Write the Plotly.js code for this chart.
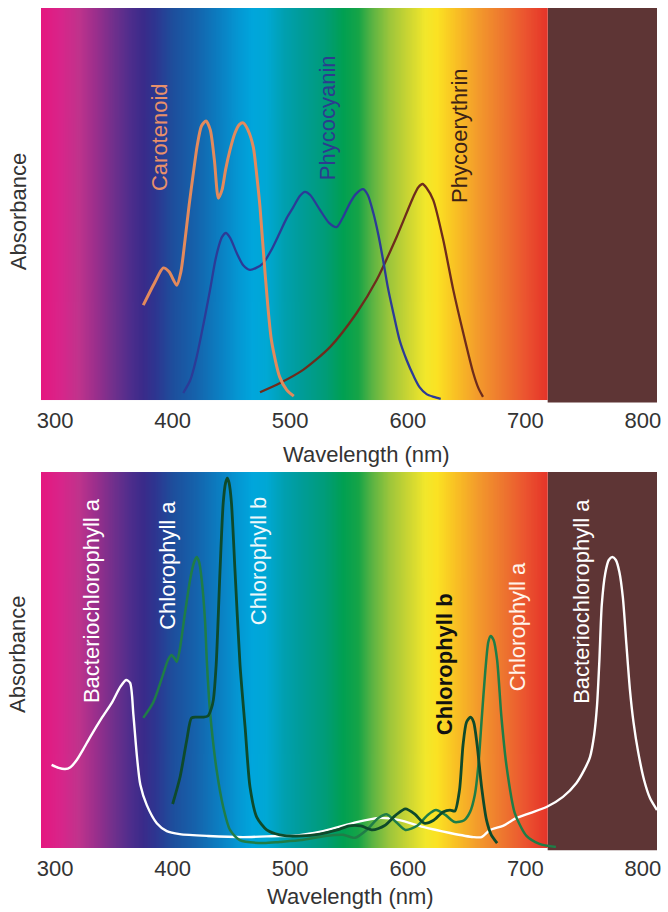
<!DOCTYPE html>
<html>
<head>
<meta charset="utf-8">
<script src="https://cdn.plot.ly/plotly-3.0.1.min.js"></script>
<style>
  html, body { margin: 0; padding: 0; background: #ffffff; }
  #chart { width: 668px; height: 912px; }
</style>
</head>
<body>
<div id="chart"></div>
<script>
// ---------- Data (wavelength in nm, relative absorbance 0..1) ----------
// Top panel: accessory pigments
const carotenoidNm  = [375,385,392,397,403.5,407,410.5,414,417.6,421,424.5,428.4,432,435.5,438.9,442,445,448.8,453,456.5,460,464,468.6,471.5,474.3,478.6,484,491,497,503];
const carotenoidAbs = [0.242,0.301,0.337,0.327,0.293,0.327,0.408,0.497,0.579,0.651,0.699,0.712,0.689,0.612,0.515,0.536,0.587,0.638,0.681,0.702,0.707,0.689,0.645,0.574,0.492,0.324,0.153,0.059,0.026,0.010];

const phycocyaninNm  = [409,415,420.4,426,431.8,436,439,442,445.4,449,454.5,460,465.8,471,477,484,491,497,502.6,508,512.6,517,525.3,533,539.5,545,550.9,556,562,566,570.7,575,579,583,587.7,593,599,605,610,616,622,628];
const phycocyaninAbs = [0.018,0.051,0.110,0.191,0.281,0.352,0.390,0.416,0.426,0.413,0.375,0.344,0.332,0.337,0.349,0.383,0.426,0.464,0.492,0.520,0.531,0.523,0.485,0.452,0.441,0.467,0.503,0.526,0.538,0.523,0.477,0.421,0.357,0.288,0.222,0.153,0.102,0.061,0.033,0.015,0.008,0.003];

const phycoerythrinNm  = [474.3,491,511,533.8,556.5,573.5,590.5,604.7,609,612.6,616,621.7,630.2,638.7,647.2,655.7,660,664];
const phycoerythrinAbs = [0.020,0.043,0.077,0.135,0.222,0.306,0.416,0.518,0.543,0.551,0.541,0.510,0.408,0.281,0.171,0.069,0.031,0.008];

// Bottom panel: chlorophylls
const bchlNm  = [297,303,308.5,313,318.4,324,329.8,339.7,348.2,355.3,360.4,363.8,366.6,369.5,372.5,378,386.5,395,406,430,460,491,500,528,556.5,576,593,613,636,655.7,662.8,670,681,692.6,704,718,732,743.5,750,755,758.5,761,763,765,768,771,774,777,780,783,786,789,792,796,801,806,812];
const bchlAbs = [0.221,0.213,0.210,0.215,0.234,0.263,0.295,0.346,0.386,0.428,0.447,0.439,0.354,0.247,0.168,0.114,0.066,0.045,0.037,0.032,0.029,0.032,0.032,0.045,0.069,0.080,0.074,0.056,0.040,0.029,0.029,0.048,0.059,0.080,0.093,0.109,0.136,0.173,0.207,0.242,0.300,0.380,0.500,0.646,0.731,0.766,0.774,0.766,0.734,0.665,0.540,0.420,0.335,0.255,0.181,0.133,0.101];

const chlaNm  = [375,383.6,392,396,399,401.5,403.5,406,410.5,414.8,418,420.4,422.5,424.7,427.5,429,431,433,437.4,443,448.8,457,477,491,510,530,545,555,565,575,582,590,598,608,617,624,632,640,648,653,657,660,663,666,668.5,670.5,673,676,679.6,684,691,701,712,726];
const chlaAbs = [0.346,0.388,0.463,0.500,0.513,0.505,0.495,0.527,0.625,0.713,0.758,0.774,0.761,0.713,0.606,0.500,0.394,0.322,0.207,0.109,0.048,0.021,0.013,0.016,0.021,0.032,0.035,0.027,0.048,0.080,0.090,0.069,0.048,0.059,0.088,0.101,0.088,0.069,0.074,0.096,0.141,0.218,0.348,0.473,0.548,0.564,0.553,0.500,0.351,0.218,0.093,0.032,0.011,0.003];

const chlbNm  = [400,406.3,412,416,420,426,430,433,434.6,437,440.3,443,445,446.5,448,450,453,457.3,461.6,465.8,471.5,480,491,510,525,540,550,560,570,580,590,598,606,614,622,630,636,640,644,647,650,653.4,656,659,662.8,667,671,676];
const chlbAbs = [0.117,0.189,0.287,0.346,0.348,0.348,0.351,0.372,0.394,0.487,0.739,0.918,0.971,0.984,0.971,0.918,0.739,0.487,0.322,0.162,0.082,0.048,0.035,0.032,0.037,0.048,0.059,0.059,0.048,0.059,0.088,0.104,0.090,0.066,0.074,0.096,0.101,0.098,0.154,0.274,0.335,0.348,0.335,0.274,0.162,0.074,0.035,0.013];

// Visible spectrum background (nm -> colour) and far-red region
const spectrumNm     = [288,305,320,335,350,365,375,385,400,420,440,455,468,480,495,510,530,545,558,570,585,600,615,625,640,660,680,700,715,719];
const spectrumColors = ['#e5177f','#d8258a','#c0338c','#9a2f8c','#70308c','#4c2d8c','#3a2b8a','#2e3590','#1e4e9c','#1563ac','#0b7fc2','#0596d2','#00a6dc','#00a8d4','#00a0b0','#009c98','#009c78','#00a052','#16a447','#5cb443','#9ec63b','#cad533','#f2e72b','#fbe223','#f9c224','#f39a2c','#ee782f','#eb5430','#e63a2a','#e5352a'];
const farRedStart = 719, farRedEnd = 812;
const xTicks = [300,400,500,600,700,800];

// ---------- Background gradient image ----------
const cv = document.createElement('canvas');
cv.width = 1200; cv.height = 2;
const ctx = cv.getContext('2d');
const g = ctx.createLinearGradient(0, 0, cv.width, 0);
const nm0 = spectrumNm[0], nm1 = spectrumNm[spectrumNm.length - 1];
spectrumNm.forEach((w, i) => g.addColorStop((w - nm0) / (nm1 - nm0), spectrumColors[i]));
ctx.fillStyle = g;
ctx.fillRect(0, 0, cv.width, cv.height);
const gradURL = cv.toDataURL('image/png');

function line(x, y, color, width, xa, ya) {
  return { x: x, y: y, type: 'scatter', mode: 'lines', xaxis: xa, yaxis: ya,
           line: { color: color, width: width, shape: 'spline', smoothing: 0.7 },
           hoverinfo: 'skip', showlegend: false };
}

const traces = [
  line(phycoerythrinNm, phycoerythrinAbs, '#6e2c1c', 2.3, 'x', 'y'),
  line(phycocyaninNm, phycocyaninAbs, '#2c3b97', 2.3, 'x', 'y'),
  line(carotenoidNm, carotenoidAbs, '#e38a5c', 3, 'x', 'y'),
  line(bchlNm, bchlAbs, '#ffffff', 2.4, 'x2', 'y2'),
  line(chlaNm, chlaAbs, '#1f7d47', 2.5, 'x2', 'y2'),
  line(chlbNm, chlbAbs, '#0e4a2b', 2.8, 'x2', 'y2')
];

const FONT = 'Liberation Sans, Arial, Helvetica, sans-serif';
const xaxisBase = {
  range: [288, 812], tickmode: 'array', tickvals: xTicks,
  ticktext: xTicks.map(String),
  showgrid: false, zeroline: false, showline: false,
  ticks: 'outside', ticklen: 1, tickcolor: 'rgba(0,0,0,0)',
  tickfont: { family: FONT, size: 22, color: '#333333' }, fixedrange: true
};
const yaxisBase = {
  range: [0, 1], showgrid: false, zeroline: false, showline: false,
  showticklabels: false, ticks: '', fixedrange: true
};

function lbl(text, x, y, color, xa, ya, bold) {
  return { text: bold ? '<b>' + text + '</b>' : text, x: x, y: y, xref: xa, yref: ya,
           showarrow: false, textangle: -90, xanchor: 'center', yanchor: 'middle',
           font: { family: FONT, size: 22, color: color } };
}

const layout = {
  width: 668, height: 912,
  margin: { l: 41, r: 11, t: 8, b: 64 },
  paper_bgcolor: '#ffffff', plot_bgcolor: 'rgba(0,0,0,0)',
  showlegend: false,
  xaxis:  Object.assign({}, xaxisBase, { anchor: 'y' }),
  yaxis:  Object.assign({}, yaxisBase, { domain: [0.5333, 1], anchor: 'x' }),
  xaxis2: Object.assign({}, xaxisBase, { anchor: 'y2' }),
  yaxis2: Object.assign({}, yaxisBase, { domain: [0, 0.4476], anchor: 'x2' }),
  images: [
    { source: gradURL, xref: 'x', yref: 'y domain', x: nm0, y: 1, sizex: nm1 - nm0, sizey: 1,
      sizing: 'stretch', xanchor: 'left', yanchor: 'top', layer: 'below' },
    { source: gradURL, xref: 'x2', yref: 'y2 domain', x: nm0, y: 1, sizex: nm1 - nm0, sizey: 1,
      sizing: 'stretch', xanchor: 'left', yanchor: 'top', layer: 'below' }
  ],
  shapes: [
    { type: 'rect', xref: 'x', yref: 'y domain', x0: farRedStart, x1: farRedEnd, y0: -0.006, y1: 1,
      fillcolor: '#5e3535', line: { width: 0 }, layer: 'below' },
    { type: 'rect', xref: 'x2', yref: 'y2 domain', x0: farRedStart, x1: farRedEnd, y0: -0.006, y1: 1,
      fillcolor: '#5e3535', line: { width: 0 }, layer: 'below' }
  ],
  annotations: [
    // axis titles
    { text: 'Wavelength (nm)', xref: 'paper', yref: 'paper', x: 0.5276, y: 0.468, showarrow: false,
      xanchor: 'center', yanchor: 'middle', font: { family: FONT, size: 22, color: '#333333' } },
    { text: 'Wavelength (nm)', xref: 'paper', yref: 'paper', x: 0.503, y: -0.058, showarrow: false,
      xanchor: 'center', yanchor: 'middle', font: { family: FONT, size: 22, color: '#333333' } },
    { text: 'Absorbance', xref: 'paper', yref: 'paper', x: -0.0373, y: 0.757, showarrow: false, textangle: -90,
      xanchor: 'center', yanchor: 'middle', font: { family: FONT, size: 22, color: '#333333' } },
    { text: 'Absorbance', xref: 'paper', yref: 'paper', x: -0.0373, y: 0.2298, showarrow: false, textangle: -90,
      xanchor: 'center', yanchor: 'middle', font: { family: FONT, size: 22, color: '#333333' } },
    // pigment labels, top
    lbl('Carotenoid', 389.3, 0.671, '#e8906a', 'x', 'y'),
    lbl('Phycocyanin', 531.3, 0.719, '#2c3b8f', 'x', 'y'),
    lbl('Phycoerythrin', 643.5, 0.676, '#3d2216', 'x', 'y'),
    // pigment labels, bottom
    lbl('Bacteriochlorophyll a', 331.5, 0.657, '#ffffff', 'x2', 'y2'),
    lbl('Chlorophyll a', 396, 0.753, '#ffffff', 'x2', 'y2'),
    lbl('Chlorophyll b', 472.6, 0.763, '#eef8fb', 'x2', 'y2'),
    lbl('Chlorophyll b', 630.8, 0.489, '#111111', 'x2', 'y2', true),
    lbl('Chlorophyll a', 692.9, 0.590, '#fff4ea', 'x2', 'y2'),
    lbl('Bacteriochlorophyll a', 748.1, 0.657, '#ffffff', 'x2', 'y2')
  ]
};

Plotly.newPlot('chart', traces, layout, { staticPlot: true, displayModeBar: false });
</script>
</body>
</html>
